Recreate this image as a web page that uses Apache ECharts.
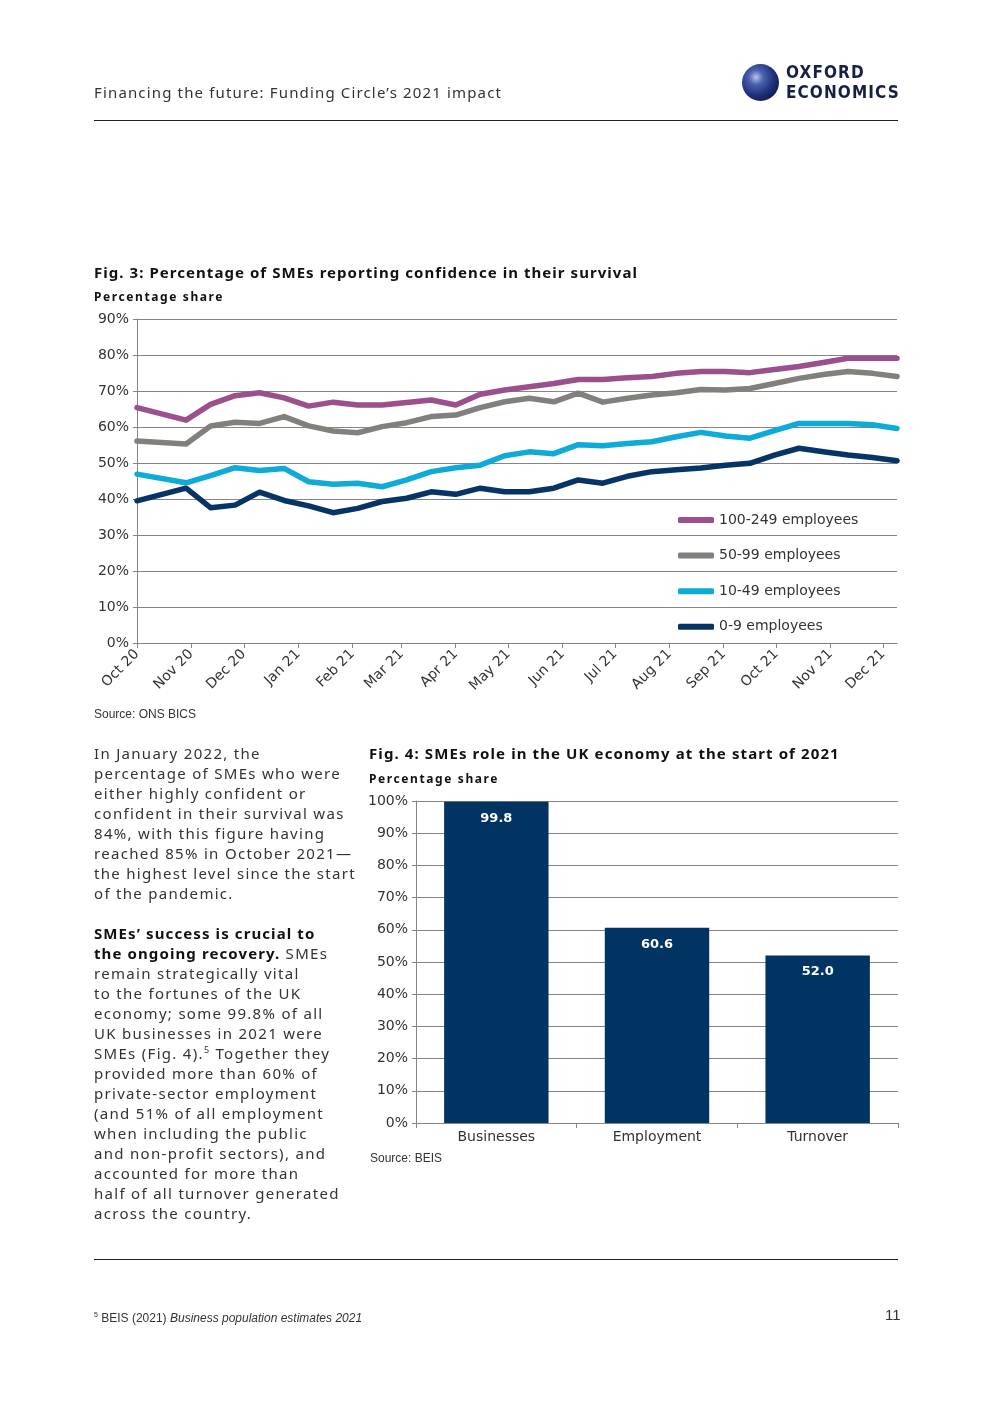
<!DOCTYPE html>
<html>
<head>
<meta charset="utf-8">
<script src="https://cdn.jsdelivr.net/npm/echarts@6/dist/echarts.min.js"></script>
<style>
  html, body { margin: 0; padding: 0; background: #fff; }
  body { width: 992px; height: 1403px; position: relative; overflow: hidden; font-family: "Noto Sans", sans-serif; color: #2b2b2b; }
  #chart { position: absolute; left: 0; top: 0; width: 992px; height: 1403px; }
  .t { position: absolute; white-space: nowrap; pointer-events: none; }
  .rule { position: absolute; left: 94px; width: 804px; height: 1px; background: #222; }
</style>
</head>
<body>
<div id="chart"></div>

<div class="t" style="left:94px; top:82px; font-size:15px; line-height:20px; letter-spacing:1.15px; color:#333;">Financing the future: Funding Circle’s 2021 impact</div>
<div class="rule" style="top:120px;"></div>

<div class="t" style="left:742px; top:64px; width:37px; height:37px; border-radius:50%; background:radial-gradient(circle at 38% 36%, #b9c6ea 0%, #4a62b0 22%, #1e2f78 55%, #0c1540 85%, #0a1238 100%);"></div>
<div class="t" style="left:786px; top:62px; font-family:'DejaVu Sans Condensed','DejaVu Sans',sans-serif; font-weight:bold; font-size:17px; line-height:20px; letter-spacing:1.1px; color:#162044;">OXFORD</div>
<div class="t" style="left:786px; top:82px; font-family:'DejaVu Sans Condensed','DejaVu Sans',sans-serif; font-weight:bold; font-size:17px; line-height:20px; letter-spacing:1.1px; color:#162044;">ECONOMICS</div>

<div class="t" style="left:94px; top:262px; font-size:15px; font-weight:bold; line-height:20px; letter-spacing:1.05px; color:#111;">Fig. 3: Percentage of SMEs reporting confidence in their survival</div>
<div class="t" style="left:94px; top:289px; font-size:12px; font-weight:bold; line-height:16px; letter-spacing:1.6px; color:#111;">Percentage share</div>
<div class="t" style="left:94px; top:706px; font-family:'Liberation Sans',sans-serif; font-size:12px; line-height:16px; color:#333;">Source: ONS BICS</div>

<div class="t" style="left:94px; top:743px; font-size:15px; line-height:20px; letter-spacing:1.3px; color:#333;">
In January 2022, the<br>
percentage of SMEs who were<br>
either highly confident or<br>
confident in their survival was<br>
84%, with this figure having<br>
reached 85% in October 2021—<br>
the highest level since the start<br>
of the pandemic.<br>
<br>
<b style="color:#111; letter-spacing:1.1px;">SMEs’ success is crucial to</b><br>
<b style="color:#111; letter-spacing:1.1px;">the ongoing recovery.</b> SMEs<br>
remain strategically vital<br>
to the fortunes of the UK<br>
economy; some 99.8% of all<br>
UK businesses in 2021 were<br>
SMEs (Fig. 4).<sup style="font-size:9px; line-height:0;">5</sup> Together they<br>
provided more than 60% of<br>
private-sector employment<br>
(and 51% of all employment<br>
when including the public<br>
and non-profit sectors), and<br>
accounted for more than<br>
half of all turnover generated<br>
across the country.
</div>

<div class="t" style="left:369px; top:743px; font-size:15px; font-weight:bold; line-height:20px; letter-spacing:1.1px; color:#111;">Fig. 4: SMEs role in the UK economy at the start of 2021</div>
<div class="t" style="left:369px; top:771px; font-size:12px; font-weight:bold; line-height:16px; letter-spacing:1.6px; color:#111;">Percentage share</div>
<div class="t" style="left:370px; top:1150px; font-family:'Liberation Sans',sans-serif; font-size:12px; line-height:16px; color:#333;">Source: BEIS</div>

<div class="rule" style="top:1259px;"></div>
<div class="t" style="left:94px; top:1307px; font-family:'Liberation Sans',sans-serif; font-size:12px; line-height:16px; color:#333;"><sup style="font-size:7px;">5</sup> BEIS (2021) <i>Business population estimates 2021</i></div>
<div class="t" style="left:885px; top:1305px; font-family:'Liberation Sans',sans-serif; font-size:15px; line-height:20px; color:#333;">11</div>

<script>
// ---------- Fig. 3 data ----------
const surveyDates = [
  '2020-10-01','2020-10-29','2020-11-12','2020-11-26','2020-12-10','2020-12-24',
  '2021-01-07','2021-01-21','2021-02-04','2021-02-18','2021-03-04','2021-03-18',
  '2021-04-01','2021-04-15','2021-04-29','2021-05-13','2021-05-27','2021-06-10',
  '2021-06-24','2021-07-08','2021-07-22','2021-08-05','2021-08-19','2021-09-02',
  '2021-09-16','2021-09-30','2021-10-14','2021-10-28','2021-11-11','2021-11-25',
  '2021-12-09'
];
const emp100_249 = [65.4,61.9,66.3,68.7,69.5,68.1,65.8,66.9,66.1,66.1,66.8,67.5,66.1,69.1,70.3,71.2,72.1,73.2,73.2,73.7,74.0,74.9,75.4,75.4,75.1,76.0,76.8,77.9,79.1,79.1,79.1];
const emp50_99   = [56.1,55.3,60.3,61.3,61.0,62.9,60.3,58.9,58.4,60.1,61.2,62.9,63.3,65.4,67.0,68.0,67.0,69.4,66.9,68.0,68.9,69.5,70.4,70.3,70.7,72.1,73.5,74.6,75.4,74.9,74.0];
const emp10_49   = [46.9,44.5,46.5,48.7,47.9,48.5,44.8,44.1,44.4,43.4,45.3,47.6,48.7,49.4,52.0,53.1,52.6,55.1,54.8,55.4,55.9,57.3,58.5,57.5,56.9,59.0,61.0,61.0,61.0,60.6,59.6];
const emp0_9     = [39.5,43.0,37.6,38.3,41.9,39.6,38.1,36.2,37.4,39.3,40.2,42.0,41.3,43.0,42.0,42.0,43.0,45.3,44.4,46.3,47.6,48.1,48.6,49.4,49.9,52.2,54.1,53.1,52.2,51.5,50.6];
const seriesNames = ['100-249 employees','50-99 employees','10-49 employees','0-9 employees'];
const monthTicks = ['2020-10-01','2020-11-01','2020-12-01','2021-01-01','2021-02-01','2021-03-01','2021-04-01','2021-05-01','2021-06-01','2021-07-01','2021-08-01','2021-09-01','2021-10-01','2021-11-01','2021-12-01'];
const monthLabels = ['Oct 20','Nov 20','Dec 20','Jan 21','Feb 21','Mar 21','Apr 21','May 21','Jun 21','Jul 21','Aug 21','Sep 21','Oct 21','Nov 21','Dec 21'];
const yTicks1 = [0,10,20,30,40,50,60,70,80,90];

// ---------- Fig. 4 data ----------
const barCategories = ['Businesses','Employment','Turnover'];
const barValues = [99.8, 60.6, 52.0];

// ---------- helpers ----------
const DAY = 86400000;
function ts(s) { const p = s.split('-').map(Number); return Date.UTC(p[0], p[1]-1, p[2]) / DAY; }
const tickDays = monthTicks.map(ts);
function pairs(vals) { return surveyDates.map((d, i) => [ts(d), vals[i]]); }

const FONT = 'DejaVu Sans';
const TXT = '#333';
const GRIDC = '#858585';
const colors = ['#9b4f8d', '#82807c', '#0eaad8', '#063466'];

const chart = echarts.init(document.getElementById('chart'), null, { renderer: 'canvas' });
chart.setOption({
  animation: false,
  textStyle: { fontFamily: FONT },
  grid: [
    { left: 137, top: 319, width: 760, height: 324, containLabel: false },
    { left: 416, top: 801, width: 482, height: 322, containLabel: false }
  ],
  legend: {
    data: seriesNames,
    orient: 'vertical',
    left: 673,
    top: 507,
    itemWidth: 36,
    itemHeight: 6,
    itemGap: 19.6,
    icon: 'roundRect',
    textStyle: { fontFamily: FONT, fontSize: 14, color: TXT, lineHeight: 16 },
    selectedMode: false
  },
  xAxis: [
    {
      gridIndex: 0,
      type: 'value',
      min: ts(surveyDates[0]),
      max: ts(surveyDates[surveyDates.length - 1]),
      axisLine: { show: true, lineStyle: { color: GRIDC, width: 1 } },
      axisTick: { show: true, length: 5, lineStyle: { color: GRIDC }, customValues: tickDays },
      axisLabel: {
        customValues: tickDays,
        rotate: 45,
        margin: 9,
        showMinLabel: true, showMaxLabel: true,
        fontFamily: FONT, fontSize: 14, color: TXT,
        formatter: function (v) {
          let best = 0, bd = Infinity;
          tickDays.forEach((t, i) => { const d = Math.abs(t - v); if (d < bd) { bd = d; best = i; } });
          return monthLabels[best];
        }
      },
      splitLine: { show: false }
    },
    {
      gridIndex: 1,
      type: 'category',
      data: barCategories,
      axisLine: { show: true, lineStyle: { color: GRIDC, width: 1 } },
      axisTick: { show: true, length: 5, alignWithLabel: false, lineStyle: { color: GRIDC } },
      axisLabel: { fontFamily: FONT, fontSize: 14, color: TXT, margin: 7 },
      splitLine: { show: false }
    }
  ],
  yAxis: [
    {
      gridIndex: 0,
      type: 'value',
      min: yTicks1[0], max: yTicks1[yTicks1.length - 1], interval: 10,
      axisLine: { show: true, lineStyle: { color: GRIDC, width: 1 } },
      axisTick: { show: true, length: 4, lineStyle: { color: GRIDC } },
      axisLabel: { formatter: '{value}%', fontFamily: FONT, fontSize: 14, color: TXT, margin: 8 },
      splitLine: { show: true, lineStyle: { color: GRIDC, width: 1 } }
    },
    {
      gridIndex: 1,
      type: 'value',
      min: 0, max: 100, interval: 10,
      axisLine: { show: true, lineStyle: { color: GRIDC, width: 1 } },
      axisTick: { show: true, length: 4, lineStyle: { color: GRIDC } },
      axisLabel: { formatter: '{value}%', fontFamily: FONT, fontSize: 14, color: TXT, margin: 8 },
      splitLine: { show: true, lineStyle: { color: GRIDC, width: 1 } }
    }
  ],
  series: [
    { name: seriesNames[0], type: 'line', xAxisIndex: 0, yAxisIndex: 0, data: pairs(emp100_249), symbol: 'none', color: colors[0], lineStyle: { width: 5.5, cap: 'round', join: 'round' } },
    { name: seriesNames[1], type: 'line', xAxisIndex: 0, yAxisIndex: 0, data: pairs(emp50_99),   symbol: 'none', color: colors[1], lineStyle: { width: 5.5, cap: 'round', join: 'round' } },
    { name: seriesNames[2], type: 'line', xAxisIndex: 0, yAxisIndex: 0, data: pairs(emp10_49),   symbol: 'none', color: colors[2], lineStyle: { width: 5.5, cap: 'round', join: 'round' } },
    { name: seriesNames[3], type: 'line', xAxisIndex: 0, yAxisIndex: 0, data: pairs(emp0_9),     symbol: 'none', color: colors[3], lineStyle: { width: 5.5, cap: 'round', join: 'round' } },
    {
      name: 'SME share', type: 'bar', xAxisIndex: 1, yAxisIndex: 1,
      data: barValues, barWidth: '65%',
      itemStyle: { color: '#023463' },
      label: {
        show: true, position: 'insideTop', distance: 10,
        color: '#fff', fontFamily: FONT, fontWeight: 'bold', fontSize: 13,
        formatter: p => p.value.toFixed(1)
      }
    }
  ]
});
</script>
</body>
</html>
